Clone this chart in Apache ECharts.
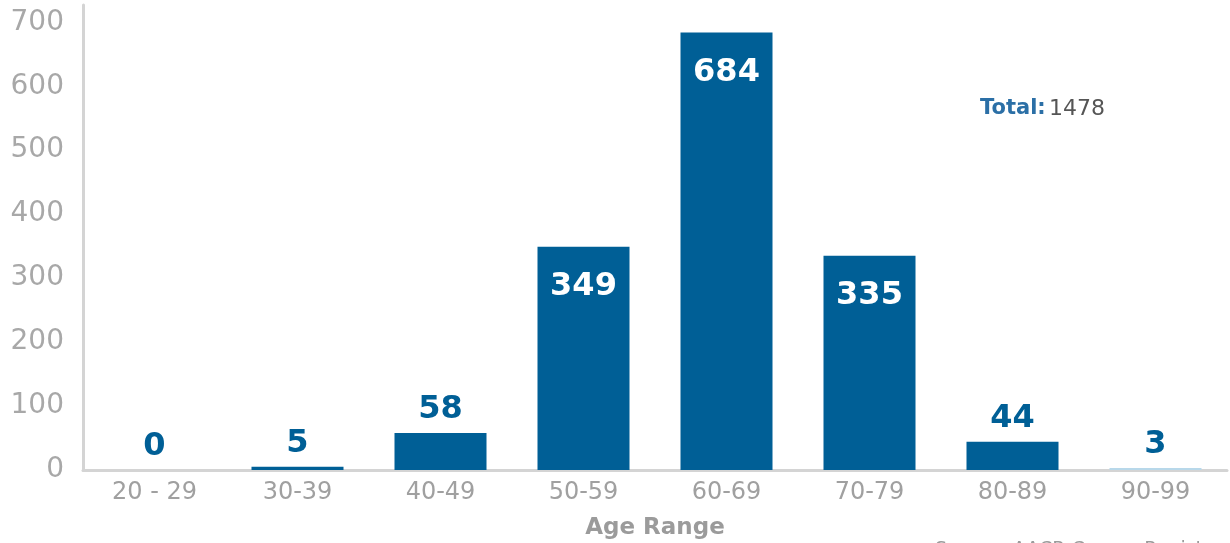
<!DOCTYPE html>
<html>
<head>
<meta charset="utf-8">
<script src="https://cdn.jsdelivr.net/npm/echarts@6/dist/echarts.min.js"></script>
<style>
  html, body { margin: 0; padding: 0; background: #fff; overflow: hidden; }
  #chart { width: 1230px; height: 543px; }
</style>
</head>
<body>
<div id="chart"></div>
<script>
// Patients by age range
const ageRanges = ['20 - 29', '30-39', '40-49', '50-59', '60-69', '70-79', '80-89', '90-99'];
const patientCounts = [0, 5, 58, 349, 684, 335, 44, 3];
const yTicks = [0, 100, 200, 300, 400, 500, 600, 700];
const totalPatients = 1478;

const BLUE = '#005f96';
const FONT = '"DejaVu Sans", "Open Sans", sans-serif';

// Tall bars carry their value inside, short bars above
const INSIDE_MIN = 200;

const seriesData = patientCounts.map((v, i) => {
  const inside = v >= INSIDE_MIN;
  const item = {
    value: v,
    label: inside
      ? { position: 'insideTop', distance: 24, color: '#fff' }
      : { position: 'top', distance: 7, color: BLUE }
  };
  if (i === patientCounts.length - 1) {
    item.itemStyle = { color: '#b8d8ea' };
  }
  return item;
});

const chart = echarts.init(document.getElementById('chart'), null, { renderer: 'canvas' });

chart.setOption({
  animation: false,
  grid: { left: 83, right: 3, top: 5, bottom: 73, containLabel: false, outerBoundsMode: 'none' },
  xAxis: {
    type: 'category',
    data: ageRanges,
    axisLine: { lineStyle: { color: '#d4d4d4', width: 3 } },
    axisTick: { show: false },
    axisLabel: { color: '#a0a0a0', fontSize: 24, fontFamily: FONT, margin: 11 },
    name: 'Age Range',
    nameLocation: 'middle',
    nameGap: 47,
    nameTextStyle: { color: '#9b9b9b', fontSize: 23, fontWeight: 'bold', fontFamily: FONT }
  },
  yAxis: {
    type: 'value',
    min: yTicks[0],
    max: 727,
    interval: 100,
    axisLine: { show: true, lineStyle: { color: '#d4d4d4', width: 3 } },
    axisTick: { show: false },
    splitLine: { show: false },
    axisLabel: {
      color: '#a8a8a8', fontSize: 28, fontFamily: FONT, margin: 19,
      showMaxLabel: false,
      formatter: v => (yTicks.includes(v) ? String(v) : '')
    }
  },
  series: [{
    type: 'bar',
    data: seriesData,
    barWidth: 92,
    itemStyle: { color: BLUE },
    label: {
      show: true,
      fontSize: 32,
      fontWeight: 'bold',
      fontFamily: FONT
    }
  }],
  graphic: [
    {
      type: 'text',
      left: 980,
      top: 98,
      style: {
        text: '{b|Total:} {n|' + totalPatients + '}',
        rich: {
          b: { fontSize: 21, fontWeight: 'bold', fill: '#2b6fa6', fontFamily: FONT },
          n: { fontSize: 22, fill: '#555555', fontFamily: FONT }
        }
      }
    },
    {
      type: 'text',
      left: 935,
      top: 541,
      style: {
        text: 'Source: AACR Cancer Registry',
        fontSize: 19,
        fill: '#9b9b9b',
        fontFamily: FONT
      }
    }
  ]
});
</script>
</body>
</html>
